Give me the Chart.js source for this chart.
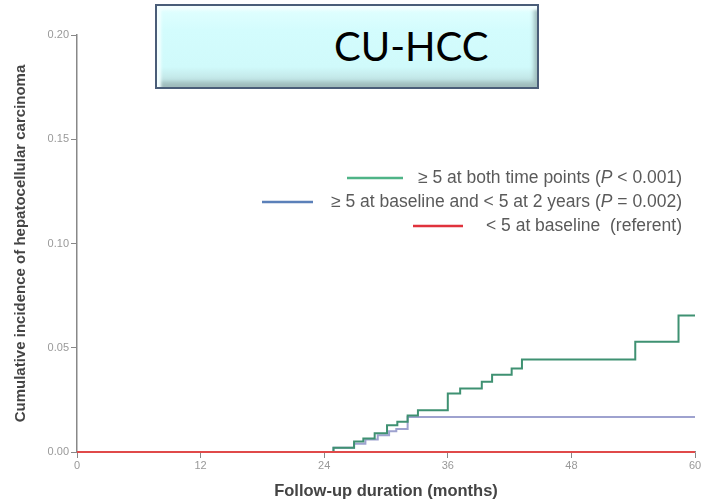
<!DOCTYPE html>
<html>
<head>
<meta charset="utf-8">
<script src="https://cdn.jsdelivr.net/npm/chart.js@4.4.0/dist/chart.umd.min.js"></script>
<style>
  body { margin:0; background:#fff; }
  #wrap { position:relative; width:703px; height:501px; }
  #box {
    position:absolute; left:155px; top:4px; width:380px; height:81px;
    background:linear-gradient(#e2ffff, #d3fcfd 30%, #d0fafb 75%, #b9d9d9);
    border:2px solid #4a5d78;
    box-shadow: inset 4px 4px 3px #f4ffff, inset -3px -5px 4px #9fbcbc;
    font-family:Lato, "Open Sans", sans-serif; font-size:40px; color:#000;
  }
  #box span { position:absolute; left:177px; top:20px; line-height:1; }
</style>
</head>
<body>
<div id="wrap">
  <canvas id="dia" width="703" height="501"></canvas>
  <div id="box"><span>CU-HCC</span></div>
</div>
<script>
// courbes (mois, incidence cumulée)
let greenMonths = [0, 24.9, 26.9, 27.8, 28.9, 30.1, 31.1, 32.1, 33.1, 36.0, 37.2, 39.3, 40.3, 42.2, 43.2, 54.2, 58.4, 60];
let greenVals   = [0, 0.002, 0.005, 0.0065, 0.009, 0.0128, 0.0145, 0.0175, 0.020, 0.028, 0.0305, 0.0337, 0.037, 0.040, 0.0444, 0.0529, 0.0655, 0.0655];
let blueMonths  = [0, 24.9, 26.9, 28.0, 29.2, 30.3, 31.0, 32.1, 60];
let blueVals    = [0, 0.002, 0.004, 0.006, 0.008, 0.010, 0.011, 0.0168, 0.0168];
let redMonths   = [0, 60];
let redVals     = [0, 0];
let xTicks = [0, 12, 24, 36, 48, 60];
let yTicks = [0, 0.05, 0.10, 0.15, 0.20];
let legendItems = [
  {color:"#4fb487", pre:"\u2265 5 at both time points (", p:"P", post:" < 0.001)", x1:347, x2:403, y:178},
  {color:"#5b80b9", pre:"\u2265 5 at baseline and < 5 at 2 years (", p:"P", post:" = 0.002)", x1:262, x2:313, y:202},
  {color:"#e0323c", pre:"< 5 at baseline  (referent)", p:"", post:"", x1:413, x2:463, y:226}
];

function pts(xs, ys) {
  return xs.map((x, i) => ({x: x, y: ys[i]}));
}

// legende dessinee a la main (texte aligne a droite)
const legendPlugin = {
  id: "legendKM",
  afterDraw(chart) {
    const ctx = chart.ctx;
    const right = 682;
    ctx.save();
    ctx.textBaseline = "middle";
    legendItems.forEach(it => {
      ctx.strokeStyle = it.color;
      ctx.lineWidth = 2.5;
      ctx.beginPath();
      ctx.moveTo(it.x1, it.y);
      ctx.lineTo(it.x2, it.y);
      ctx.stroke();
      const normal = "17.5px 'Liberation Sans', Arial, sans-serif";
      const ital = "italic 17.5px 'Liberation Sans', Arial, sans-serif";
      ctx.font = normal;
      const w1 = ctx.measureText(it.pre).width;
      const w3 = ctx.measureText(it.post).width;
      ctx.font = ital;
      const w2 = ctx.measureText(it.p).width;
      let x = right - (w1 + w2 + w3);
      ctx.fillStyle = "#5a5a5a";
      ctx.font = normal;
      ctx.fillText(it.pre, x, it.y);
      x += w1;
      ctx.font = ital;
      ctx.fillText(it.p, x, it.y);
      x += w2;
      ctx.font = normal;
      ctx.fillText(it.post, x, it.y);
    });
    ctx.restore();
  }
};

const dia = document.getElementById("dia");
new Chart(dia, {
  type: "line",
  data: {
    datasets: [
      {label: "< 5 at baseline", data: pts(redMonths, redVals),
       borderColor: "#e04a4a", borderWidth: 2, stepped: true, pointRadius: 0, clip: 4},
      {label: "\u2265 5 at both time points", data: pts(greenMonths, greenVals),
       borderColor: "#3f9172", borderWidth: 2, stepped: true, pointRadius: 0, clip: 4},
      {label: "\u2265 5 at baseline and < 5 at 2 years", data: pts(blueMonths, blueVals),
       borderColor: "#9ea2cf", borderWidth: 2, stepped: true, pointRadius: 0, clip: 4}
    ]
  },
  options: {
    responsive: false,
    animation: false,
    layout: { padding: {top: 35, right: 8, left: 0, bottom: 0} },
    plugins: { legend: {display: false}, tooltip: {enabled: false} },
    scales: {
      x: {
        type: "linear", min: 0, max: 60,
        afterBuildTicks: s => { s.ticks = xTicks.map(v => ({value: v})); },
        afterFit: s => { s.height = 49; },
        ticks: { color: "#999", font: {size: 11}, padding: 1, maxRotation: 0 },
        grid: { drawOnChartArea: false, drawTicks: true, tickLength: 6, color: "#888" },
        border: { color: "#888", width: 1.5 },
        title: { display: true, text: "Follow-up duration (months)", color: "#444",
                 font: {size: 16.5, weight: "bold"}, padding: {top: 0, bottom: 0} }
      },
      y: {
        min: 0, max: 0.2,
        afterBuildTicks: s => { s.ticks = yTicks.map(v => ({value: v})); },
        afterFit: s => { s.width = 77; },
        ticks: { color: "#999", font: {size: 11}, padding: 2, callback: v => v.toFixed(2) },
        grid: { drawOnChartArea: false, drawTicks: true, tickLength: 6, color: "#888" },
        border: { color: "#888", width: 1.5 },
        title: { display: true, text: "Cumulative incidence of hepatocellular carcinoma", color: "#444",
                 font: {size: 15, weight: "bold"}, padding: {top: 12, bottom: 0} }
      }
    }
  },
  plugins: [legendPlugin]
});
</script>
</body>
</html>
